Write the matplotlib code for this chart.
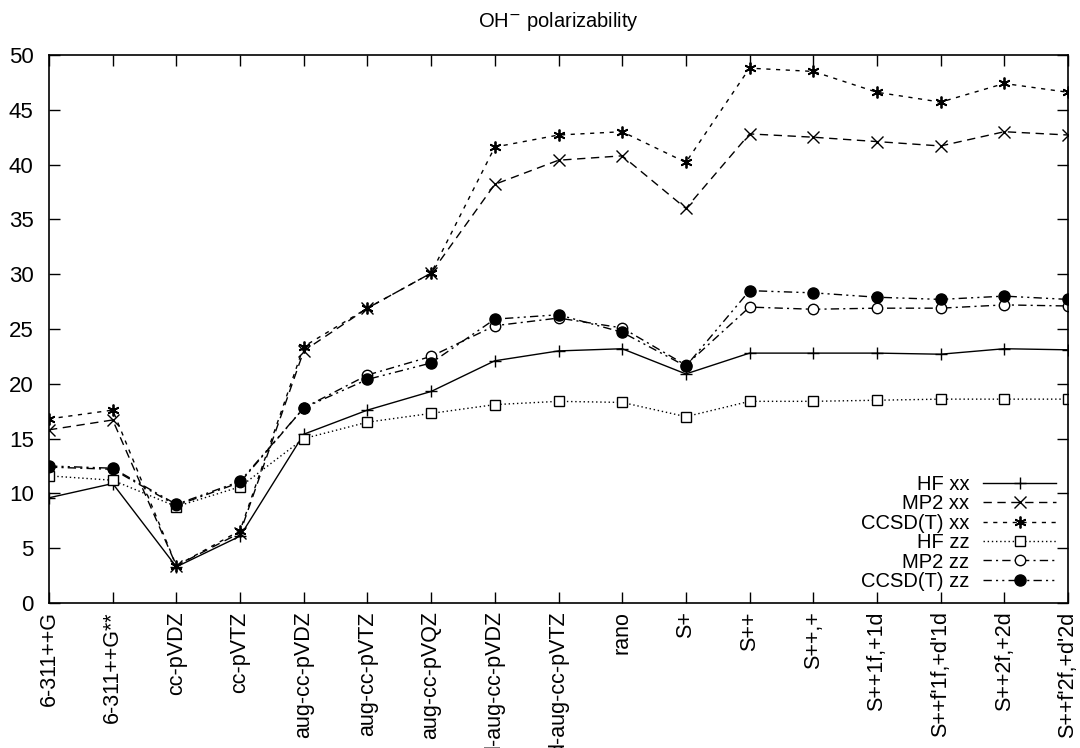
import matplotlib
matplotlib.use("Agg")
import matplotlib.pyplot as plt

plt.rcParams['font.family'] = ['Liberation Sans', 'DejaVu Sans']

basis = ['6-311++G', '6-311++G**', 'cc-pVDZ', 'cc-pVTZ', 'aug-cc-pVDZ',
         'aug-cc-pVTZ', 'aug-cc-pVQZ', 'd-aug-cc-pVDZ', 'd-aug-cc-pVTZ',
         'rano', 'S+', 'S++', 'S++,+', 'S++1f,+1d', "S++f'1f,+d'1d",
         'S++2f,+2d', "S++f'2f,+d'2d"]

hf_xx = [9.6, 10.9, 3.3, 6.1, 15.4, 17.6, 19.3, 22.1, 23.0, 23.2, 20.9,
         22.8, 22.8, 22.8, 22.7, 23.2, 23.1]
mp2_xx = [15.8, 16.7, 3.4, 6.4, 23.0, 26.9, 30.1, 38.2, 40.4, 40.8, 36.0,
          42.8, 42.5, 42.1, 41.7, 43.0, 42.7]
ccsdt_xx = [16.8, 17.6, 3.4, 6.6, 23.4, 26.9, 30.1, 41.6, 42.7, 43.0, 40.2,
            48.8, 48.5, 46.6, 45.7, 47.4, 46.6]
hf_zz = [11.6, 11.2, 8.8, 10.6, 15.0, 16.5, 17.3, 18.1, 18.4, 18.3, 17.0,
         18.4, 18.4, 18.5, 18.6, 18.6, 18.6]
mp2_zz = [12.4, 12.2, 8.9, 11.0, 17.8, 20.8, 22.5, 25.3, 26.0, 25.1, 21.7,
          27.0, 26.8, 26.9, 26.9, 27.2, 27.1]
ccsdt_zz = [12.5, 12.3, 9.0, 11.1, 17.8, 20.4, 21.9, 25.9, 26.3, 24.7, 21.6,
            28.5, 28.3, 27.9, 27.7, 28.0, 27.7]

fig = plt.figure(figsize=(10.8, 7.48), dpi=100)
ax = fig.add_axes([49/1080, 1-603/748, (1068-49)/1080, (603-55)/748])

x = list(range(len(basis)))
lw = 1.0
ax.plot(x, hf_xx, color='black', lw=lw, ls='-', marker='+', ms=9, mew=1.0,
        label='HF xx')
ax.plot(x, mp2_xx, color='black', lw=lw, ls=(0, (6, 4)), marker='x', ms=8,
        mew=1.0, label='MP2 xx')
ax.plot(x, ccsdt_xx, color='black', lw=lw, ls=(0, (3, 4)), marker=(6, 2, 0),
        ms=8.5, mew=1.3, label='CCSD(T) xx')
ax.plot(x, hf_zz, color='black', lw=lw, ls=(0, (1, 2)), marker='s', ms=7.5,
        mfc='white', mew=1.0, label='HF zz')
ax.plot(x, mp2_zz, color='black', lw=lw, ls=(0, (6, 3, 1.5, 3)), marker='o',
        ms=7.5, mfc='white', mew=1.0, label='MP2 zz')
ax.plot(x, ccsdt_zz, color='black', lw=lw, ls=(0, (6, 3, 1.5, 3, 1.5, 3)),
        marker='o', ms=8, mfc='black', mew=1.0, label='CCSD(T) zz')

ax.set_xlim(0, len(basis) - 1)
ax.set_ylim(0, 50)
ax.set_yticks(range(0, 51, 5))
ax.set_xticks(x)
ax.set_xticklabels(basis, rotation=90, va='top', ha='center', fontsize=15.5)
ax.tick_params(axis='both', direction='in', length=8, width=1.0,
               top=True, right=True, pad=6)
ax.tick_params(axis='y', pad=11, labelsize=16)
for s in ax.spines.values():
    s.set_linewidth(1.2)

ax.set_title('OH$^{-}$ polarizability', fontsize=14.5, pad=20)

leg = ax.legend(loc='lower right', frameon=False, markerfirst=False,
                fontsize=14.5, handlelength=3.6, labelspacing=0.02,
                borderaxespad=0.4, handletextpad=0.7, borderpad=0.2)
for t in leg.get_texts():
    t.set_ha('right')

fig.savefig('out.png', dpi=100)
